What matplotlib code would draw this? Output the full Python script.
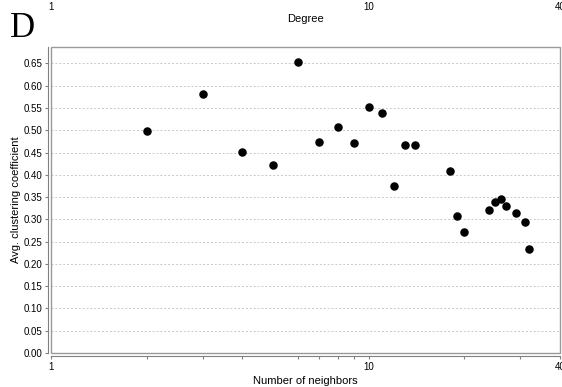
import matplotlib
matplotlib.use('Agg')
import matplotlib.pyplot as plt
from matplotlib.patches import Rectangle
from matplotlib.ticker import FixedLocator, NullFormatter

plt.rcParams['font.family'] = ['Liberation Sans', 'DejaVu Sans']

# data
neighbors = [2, 3, 4, 5, 6, 7, 8, 9, 10, 11, 12, 13, 14,
             18, 19, 20, 24, 25, 26, 27, 29, 31, 32]
clustering = [0.498, 0.581, 0.451, 0.423, 0.653, 0.474, 0.508, 0.471,
              0.553, 0.538, 0.374, 0.467, 0.467,
              0.409, 0.308, 0.272, 0.321, 0.340, 0.346, 0.329, 0.314,
              0.295, 0.233]
yticks = [0.00, 0.05, 0.10, 0.15, 0.20, 0.25, 0.30, 0.35, 0.40, 0.45,
          0.50, 0.55, 0.60, 0.65]
xticks = [1, 10, 40]
minor_x = [2, 3, 4, 6, 7, 8, 9, 20, 30]

fig = plt.figure(figsize=(5.62, 3.87), dpi=100)
ax = fig.add_axes([0.0907, 0.0879, 0.9057, 0.7907])

ax.scatter(neighbors, clustering, s=26, color='black', zorder=3)

ax.set_xscale('log')
ax.set_xlim(1, 40)
ax.set_ylim(0, 0.687)

ax.set_yticks(yticks)
ax.set_yticklabels(['%.2f' % v for v in yticks])
ax.set_xticks(xticks)
ax.set_xticklabels([str(v) for v in xticks])
ax.xaxis.set_minor_locator(FixedLocator(minor_x))
ax.xaxis.set_minor_formatter(NullFormatter())

ax.grid(axis='y', color='#c8c8c8', linestyle=(0, (2, 2)), linewidth=0.7)
ax.grid(axis='x', visible=False)
ax.set_axisbelow(True)

# frame around plot area
ax.add_patch(Rectangle((0, 0), 1, 1, transform=ax.transAxes, fill=False,
                       edgecolor='#9a9a9a', linewidth=1.0, clip_on=False,
                       zorder=4))

for s in ['top', 'right']:
    ax.spines[s].set_visible(False)
ax.spines['left'].set_position(('outward', 2))
ax.spines['bottom'].set_position(('outward', 2.5))
ax.spines['left'].set_color('#808080')
ax.spines['bottom'].set_color('#808080')

ax.tick_params(axis='both', which='major', labelsize=7, color='#808080',
               length=2.5, width=0.8, pad=1.5)
ax.tick_params(axis='x', which='minor', color='#808080', length=2.5, width=0.8)
ax.tick_params(axis='x', which='major', pad=1.5)

ax.set_xlabel('Number of neighbors', fontsize=8, labelpad=3)
ax.set_ylabel('Avg. clustering coefficient', fontsize=8, labelpad=2)

# top axis
ax2 = ax.twiny()
ax2.set_xscale('log')
ax2.set_xlim(1, 40)
ax2.set_xticks(xticks)
ax2.set_xticklabels([str(v) for v in xticks])
ax2.xaxis.set_minor_locator(FixedLocator([]))
ax2.tick_params(axis='x', which='major', labelsize=7, length=0, pad=25)
for s in ax2.spines.values():
    s.set_visible(False)
ax2.set_xlabel('Degree', fontsize=8, va='center')
ax2.xaxis.set_label_coords(0.5, 1.0915)

fig.text(0.018, 0.904, 'D', fontsize=25, family='Liberation Serif',
         ha='left', va='baseline')

fig.savefig('out.png', dpi=100)
